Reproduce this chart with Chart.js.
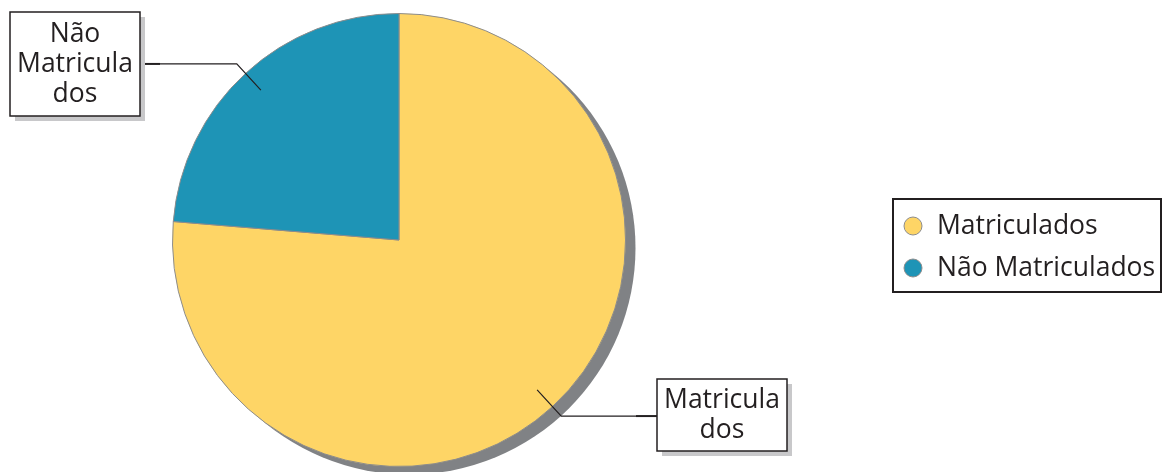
<!DOCTYPE html>
<html>
<head>
<meta charset="utf-8">
<script src="https://cdn.jsdelivr.net/npm/chart.js@4"></script>
<style>
  html, body { margin: 0; padding: 0; background: #fff; }
  #wrap { width: 1162px; height: 472px; }
</style>
</head>
<body>
<div id="wrap"><canvas id="mycanvas" width="1162" height="472"></canvas></div>
<script>
// data (percent)
var labels = ['Matriculados', 'Não Matriculados'];
var values = [76.3, 23.7];
var colors = ['#FED566', '#1E94B6'];

var textColor = '#231f20';
var fontFamily = '"Open Sans", "Noto Sans", sans-serif';

// callout boxes, one per slice
var boxes = [
  { x: 657, y: 379, w: 130, h: 72, side: 'left' },
  { x: 10, y: 12, w: 130, h: 104, side: 'right' }
];

function wrapLabel(s, max) {
  var out = [];
  s.split(' ').forEach(function (w) {
    while (w.length > max) { out.push(w.slice(0, max)); w = w.slice(max); }
    if (w.length) out.push(w);
  });
  return out;
}

var pieShadow = {
  id: 'pieShadow',
  beforeDatasetsDraw: function (chart) {
    var a = chart.getDatasetMeta(0).data[0];
    var ctx = chart.ctx;
    ctx.save();
    ctx.fillStyle = '#808285';
    ctx.beginPath();
    ctx.arc(a.x + 10, a.y + 8, a.outerRadius, 0, Math.PI * 2);
    ctx.fill();
    ctx.restore();
  }
};

var callouts = {
  id: 'callouts',
  afterDatasetsDraw: function (chart) {
    var ctx = chart.ctx;
    var arcs = chart.getDatasetMeta(0).data;
    ctx.save();
    arcs.forEach(function (a, i) {
      var b = boxes[i];
      var mid = (a.startAngle + a.endAngle) / 2;
      var r = a.outerRadius;
      var ax = a.x + Math.cos(mid) * r * 0.9, ay = a.y + Math.sin(mid) * r * 0.9;
      var ex = a.x + Math.cos(mid) * r * 1.057, ey = a.y + Math.sin(mid) * r * 1.057;
      var bx = b.side === 'left' ? b.x : b.x + b.w;
      var thickStart = b.side === 'left' ? bx - 21 : bx + 20;

      // leader line
      ctx.strokeStyle = '#231f20';
      ctx.lineWidth = 1.2;
      ctx.beginPath();
      ctx.moveTo(ax, ay);
      ctx.lineTo(ex, ey);
      ctx.lineTo(thickStart, ey);
      ctx.stroke();
      ctx.lineWidth = 2;
      ctx.beginPath();
      ctx.moveTo(thickStart, ey);
      ctx.lineTo(bx, ey);
      ctx.stroke();

      // box with shadow
      ctx.fillStyle = '#c8c8ca';
      ctx.fillRect(b.x + 5, b.y + 5, b.w, b.h);
      ctx.fillStyle = '#fff';
      ctx.fillRect(b.x, b.y, b.w, b.h);
      ctx.strokeStyle = '#231f20';
      ctx.lineWidth = 1.5;
      ctx.strokeRect(b.x, b.y, b.w, b.h);

      var lines = wrapLabel(labels[i], 9);
      ctx.fillStyle = textColor;
      ctx.font = '26.5px ' + fontFamily;
      ctx.textAlign = 'center';
      ctx.textBaseline = 'middle';
      var lh = 30;
      var cy = b.y + b.h / 2 - (lines.length - 1) * lh / 2;
      lines.forEach(function (t, k) {
        ctx.fillText(t, b.x + b.w / 2, cy + k * lh);
      });
    });
    ctx.restore();
  }
};

var boxLegend = {
  id: 'boxLegend',
  afterDraw: function (chart) {
    var ctx = chart.ctx;
    var lx = 893, ly = 199, lw = 268, lh = 93;
    ctx.save();
    ctx.strokeStyle = '#231f20';
    ctx.lineWidth = 2;
    ctx.strokeRect(lx, ly, lw, lh);
    ctx.font = '26.5px ' + fontFamily;
    ctx.textAlign = 'left';
    ctx.textBaseline = 'middle';
    labels.forEach(function (t, i) {
      var y = ly + 27 + i * 42;
      ctx.beginPath();
      ctx.arc(lx + 20, y, 9, 0, Math.PI * 2);
      ctx.fillStyle = colors[i];
      ctx.fill();
      ctx.strokeStyle = '#8c8c8c';
      ctx.lineWidth = 1;
      ctx.stroke();
      ctx.fillStyle = textColor;
      ctx.fillText(t, lx + 44, y);
    });
    ctx.restore();
  }
};

var chartdata = {
  labels: labels,
  datasets: [{
    data: values,
    backgroundColor: colors,
    borderColor: '#8c8c8c',
    borderWidth: 1
  }]
};

var ctx = document.getElementById('mycanvas');
var pieChart = new Chart(ctx, {
  type: 'pie',
  data: chartdata,
  options: {
    responsive: false,
    animation: false,
    devicePixelRatio: 1,
    layout: { padding: { left: 172, right: 536, top: 13, bottom: 5 } },
    plugins: {
      legend: { display: false },
      tooltip: { enabled: false }
    }
  },
  plugins: [pieShadow, callouts, boxLegend]
});
</script>
</body>
</html>
